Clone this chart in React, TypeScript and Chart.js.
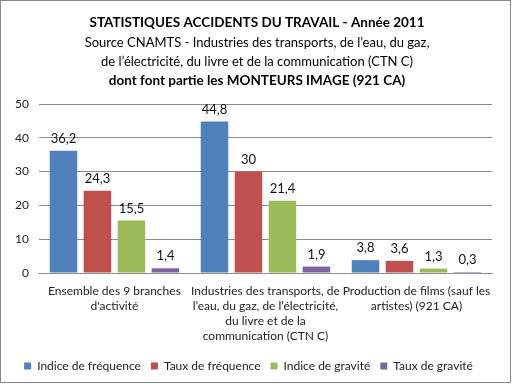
import React, { useEffect, useRef } from "react";
import { Chart, registerables } from "chart.js";

Chart.register(...registerables);

const titleLines = [
  { text: "STATISTIQUES ACCIDENTS DU TRAVAIL - Année 2011", bold: true },
  { text: "Source CNAMTS - Industries des transports, de l’eau, du gaz,", bold: false },
  { text: "de l’électricité, du livre et de la communication (CTN C)", bold: false },
  { text: "dont font partie les MONTEURS IMAGE (921 CA)", bold: true },
];

const categories = [
  ["Ensemble des 9 branches", "d'activité"],
  ["Industries des transports, de", "l’eau, du gaz, de l’électricité,", "du livre et de la", "communication (CTN C)"],
  ["Production de films (sauf les", "artistes) (921 CA)"],
];

const seriesNames = ["Indice de fréquence", "Taux de fréquence", "Indice de gravité", "Taux de gravité"];
const indiceFrequence = [36.2, 44.8, 3.8];
const tauxFrequence = [24.3, 30, 3.6];
const indiceGravite = [15.5, 21.4, 1.3];
const tauxGravite = [1.4, 1.9, 0.3];
const seriesColors = ["#4F81BD", "#C0504D", "#9BBB59", "#8064A2"];

const FONT = "Lato, 'Open Sans', sans-serif";

const headerPlugin = {
  id: "header",
  afterDraw(chart: any) {
    const ctx = chart.ctx;
    ctx.save();
    ctx.fillStyle = "#000";
    ctx.textAlign = "center";
    ctx.textBaseline = "middle";
    const ys = [22, 42, 61, 80];
    titleLines.forEach((l, i) => {
      ctx.font = `${l.bold ? "bold " : ""}${l.bold ? 13.5 : 13}px ${FONT}`;
      ctx.fillText(l.text, 256, ys[i]);
    });
    ctx.restore();
  },
};

const valueLabelPlugin = {
  id: "valueLabels",
  afterDatasetsDraw(chart: any) {
    const ctx = chart.ctx;
    ctx.save();
    ctx.fillStyle = "#111";
    ctx.font = `13px ${FONT}`;
    ctx.textAlign = "center";
    ctx.textBaseline = "middle";
    chart.data.datasets.forEach((ds: any, di: number) => {
      const meta = chart.getDatasetMeta(di);
      meta.data.forEach((bar: any, i: number) => {
        const v = ds.data[i];
        ctx.fillText(String(v).replace(".", ","), bar.x, bar.y - 12);
      });
    });
    ctx.restore();
  },
};

export default function App() {
  const ref = useRef<HTMLCanvasElement>(null);
  useEffect(() => {
    const data = [indiceFrequence, tauxFrequence, indiceGravite, tauxGravite];
    const chart = new Chart(ref.current!, {
      type: "bar",
      data: {
        labels: categories,
        datasets: seriesNames.map((name, i) => ({
          label: name,
          data: data[i],
          backgroundColor: seriesColors[i],
          borderWidth: 0,
          categoryPercentage: 0.9,
          barPercentage: 0.81,
        })),
      },
      options: {
        animation: false,
        responsive: false,
        maintainAspectRatio: false,
        layout: { padding: { top: 103, left: 4, right: 18, bottom: 0 } },
        plugins: {
          title: { display: false },
          tooltip: { enabled: false },
          legend: {
            position: "bottom",
            labels: {
              boxWidth: 7,
              boxHeight: 7,
              padding: 10,
              color: "#222",
              font: { family: FONT, size: 12 },
            },
          },
        },
        scales: {
          y: {
            min: 0,
            max: 50,
            ticks: { stepSize: 10, color: "#222", font: { family: FONT, size: 12 }, padding: 10 },
            grid: { color: "#8c8c8c", drawTicks: false },
            border: { display: false },
          },
          x: {
            afterFit: (scale: any) => {
              scale.height = 77;
            },
            ticks: { color: "#222", font: { family: FONT, size: 12, lineHeight: 1.25 }, maxRotation: 0, autoSkip: false, padding: 3 },
            grid: { display: false },
            border: { display: true, color: "#8c8c8c" },
          },
        },
      },
      plugins: [headerPlugin, valueLabelPlugin],
    });
    return () => chart.destroy();
  }, []);
  return (
    <div style={{ position: "absolute", left: 0, top: 0, width: 509, height: 381, border: "1px solid #8a8a8a", background: "#fff" }}>
      <canvas ref={ref} width={509} height={381} />
    </div>
  );
}
